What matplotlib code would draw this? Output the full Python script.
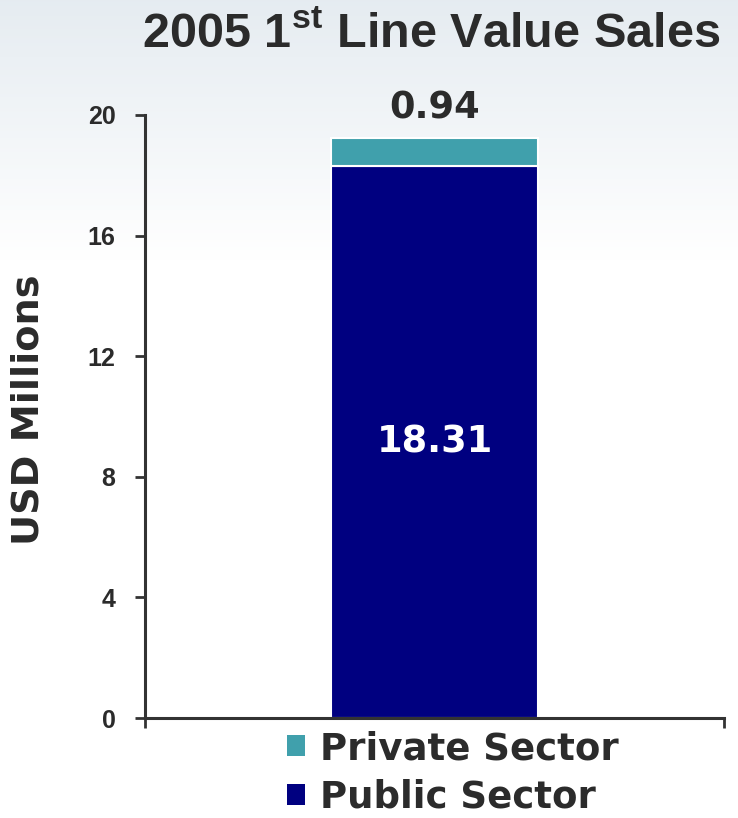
import numpy as np
import matplotlib
matplotlib.use('Agg')
import matplotlib.pyplot as plt
from matplotlib.patches import Patch

# data
segments = ['Public Sector', 'Private Sector']
values = [18.31, 0.94]
colors = ['#000080', '#40a0ac']
yticks = [0, 4, 8, 12, 16, 20]

plt.rcParams['mathtext.fontset'] = 'custom'
plt.rcParams['mathtext.bf'] = 'Liberation Sans:bold'
plt.rcParams['mathtext.rm'] = 'Liberation Sans:bold'

dark = '#2b2b2b'
fig = plt.figure(figsize=(7.38, 8.18), dpi=100)

# background gradient (light grey-blue at top fading to white)
bg = fig.add_axes([0, 0, 1, 1], zorder=-10)
grad = np.ones((818, 1, 3))
rows = np.arange(818)
fade = np.clip(1 - rows / 260.0, 0, 1)[:, None]
top_col = np.array([0.90, 0.925, 0.945])
grad[:, 0, :] = 1 - fade * (1 - top_col)
bg.imshow(grad, aspect='auto', extent=[0, 1, 0, 1], origin='upper')
bg.axis('off')

ax = fig.add_axes([145/738, 1 - 718/818, 579/738, 603/818])
ax.patch.set_alpha(0)

bottom = 0
for name, v, c in zip(segments, values, colors):
    ax.bar(0, v, width=0.712, bottom=bottom, color=c, edgecolor='white',
           linewidth=1.5, label=name)
    bottom += v

ax.set_xlim(-1, 1)
ax.set_ylim(0, 20)

# value labels
ax.text(0, values[0] / 2, f'{values[0]:.2f}', ha='center', va='center',
        color='white', fontsize=26.5, fontweight='bold', family='DejaVu Sans')
ax.annotate(f'{values[1]:.2f}', xy=(0, sum(values)), xytext=(0, 21),
            textcoords='offset points', ha='center', va='center',
            color=dark, fontsize=26.5, fontweight='bold', family='DejaVu Sans')

for s in ['top', 'right']:
    ax.spines[s].set_visible(False)
for s in ['left', 'bottom']:
    ax.spines[s].set_color('#333333')
    ax.spines[s].set_linewidth(2.2)
ax.spines['left'].set_bounds(0, 20)

ax.set_yticks(yticks)
ax.set_yticklabels([str(t) for t in yticks], fontsize=18, fontweight='bold',
                   family='Liberation Sans', color=dark)
ax.tick_params(axis='y', length=7.2, width=2, color='#333333', pad=14)
ax.set_xticks([-1, 1])
ax.set_xticklabels(['', ''])
ax.tick_params(axis='x', length=7.2, width=2, color='#333333')

fig.text(29/738, 1 - 410/818, 'USD Millions', rotation=90, ha='center',
         va='center', fontsize=27.5, fontweight='bold', family='DejaVu Sans',
         color=dark)

fig.text(431/738, 1 - 35/818, r'2005 1$^{\mathbf{st}}$ Line Value Sales',
         ha='center', va='center', fontsize=35, fontweight='bold',
         family='Liberation Sans', color=dark)

handles = [Patch(facecolor=colors[1], edgecolor='none'),
           Patch(facecolor=colors[0], edgecolor='none')]
leg = fig.legend(handles, [segments[1], segments[0]], loc='upper left',
                 bbox_to_anchor=(287/738, 1 - 730/818), frameon=False,
                 prop={'family': 'DejaVu Sans', 'weight': 'bold', 'size': 26.7},
                 handlelength=0.48, handleheight=0.48, handletextpad=0.4,
                 labelspacing=0.32, borderpad=0, borderaxespad=0)
for t in leg.get_texts():
    t.set_color(dark)

fig.savefig('out.png', dpi=100)
